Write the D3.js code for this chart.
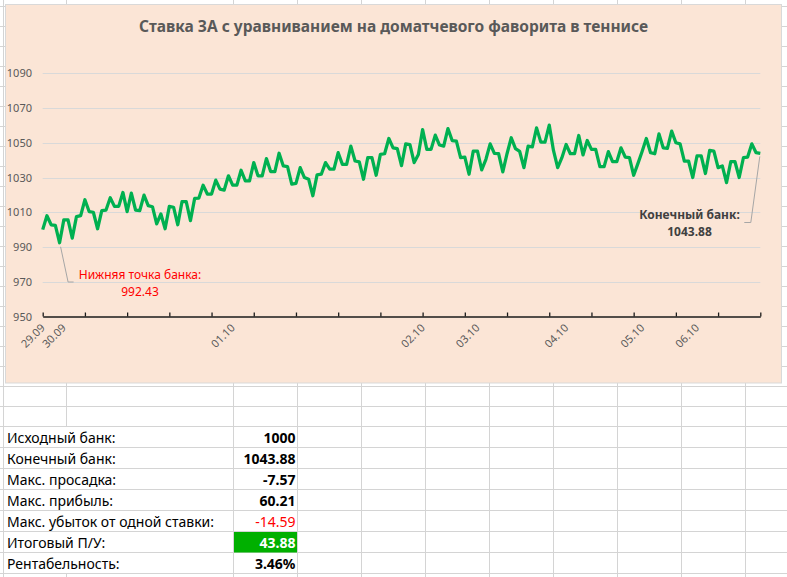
<!DOCTYPE html>
<html>
<head>
<meta charset="utf-8">
<script src="https://cdnjs.cloudflare.com/ajax/libs/d3/7.8.5/d3.min.js"></script>
<style>
body { margin: 0; background: #fff; }
svg { display: block; }
text { font-family: "Noto Sans", "Open Sans", sans-serif; }
</style>
</head>
<body>
<div id="chart"></div>
<script>

var title = "Ставка ЗА с уравниванием на доматчевого фаворита в теннисе";

// bank after each bet
var bank = [
    1000, 1008, 1002.8, 1002.4, 992.43, 1005.6, 1005.6, 995.1, 1007.5, 1008.1,
    1017.2, 1010.4, 1010, 1000.5, 1011, 1011.3, 1018.4, 1013.4, 1013.4, 1021.4,
    1010.4, 1021, 1011.3, 1011, 1019.9, 1013.8, 1013.2, 1003.3, 1009, 1000.5,
    1013.4, 1012.9, 1002.8, 1016.1, 1016.1, 1005.2, 1018, 1018.2, 1025.6, 1020.5,
    1020.5, 1028.5, 1023.3, 1022.8, 1031, 1025.6, 1025.6, 1034.2, 1028.1, 1028.1,
    1038.6, 1031, 1031, 1040.9, 1033.4, 1033.4, 1044, 1036.7, 1036.3, 1026.2,
    1026.6, 1035.7, 1030, 1029, 1019.5, 1031.5, 1031.9, 1038.6, 1034.8, 1034.8,
    1044.3, 1037.6, 1037.6, 1048.1, 1039.5, 1039, 1029, 1041.4, 1041.4, 1031.3,
    1043.3, 1043.7, 1052.5, 1047.1, 1046.6, 1036.8, 1049.4, 1049, 1038.6, 1043.3,
    1057.6, 1046.2, 1046.2, 1054.4, 1048.7, 1048.1, 1058.2, 1051.3, 1051, 1041.4,
    1041.8, 1031.9, 1045.2, 1045.2, 1034.4, 1040.5, 1049.4, 1043.9, 1043.7, 1033.2,
    1043.7, 1052.9, 1046.6, 1045, 1035.7, 1048.1, 1047.7, 1058.6, 1050.4, 1050.4,
    1060.21, 1045.6, 1035.7, 1041.4, 1049, 1043.7, 1043.7, 1054.2, 1043, 1051.3,
    1046.2, 1046.2, 1036.3, 1036.3, 1044.9, 1039.1, 1039.1, 1047.1, 1041.8, 1041.4,
    1031.3, 1038, 1045, 1052.5, 1044.3, 1043.7, 1055.1, 1047.1, 1046.8, 1056.7,
    1050, 1049.4, 1039.5, 1039.5, 1030, 1042.4, 1042.4, 1032.3, 1045.6, 1045.2,
    1035.7, 1036.7, 1027.1, 1039.1, 1039.1, 1030, 1041.4, 1041.8, 1049.4, 1044.3,
    1043.88
];

// first bet of each day
var dateLabels = ["29.09", "30.09", "01.10", "02.10", "03.10", "04.10", "05.10", "06.10"];
var dateIndex  = [0, 5, 45, 90, 103, 124, 142, 155];

var yTicks = [950, 970, 990, 1010, 1030, 1050, 1070, 1090];

var lowIndex = 4, lowLabel = ["Нижняя точка банка:", "992.43"];
var endIndex = 170, endLabel = ["Конечный банк:", "1043.88"];

var statNames = ["Исходный банк:", "Конечный банк:", "Макс. просадка:", "Макс. прибыль:",
                 "Макс. убыток от одной ставки:", "Итоговый П/У:", "Рентабельность:"];
var statValues = ["1000", "1043.88", "-7.57", "60.21", "-14.59", "43.88", "3.46%"];

/* Layout */

var W = 787, H = 577;
var gridColor = "#d4d4d4";
var colLines = [3.5, 66.5, 233.5, 297.5, 361.5, 425.5, 489.5, 553.5, 617.5, 681.5, 745.5];
var tableTop = [426.5, 447.5, 468.5, 489.5, 510.5, 531.5, 552.5], tableBottom = 573.5;

var svg = d3.select("#chart").append("svg")
    .attr("width", W)
    .attr("height", H);

svg.append("rect").attr("width", W).attr("height", H).attr("fill", "#fff");

// spreadsheet grid behind everything
var rowLines = d3.range(0, 21).map(function(k) { return 6.5 + 20*k; })
    .concat(tableTop).concat([tableBottom]);

var sheet = svg.append("g").attr("stroke", gridColor).attr("stroke-width", 1);
sheet.selectAll(".row").data(rowLines).enter().append("line")
    .attr("x1", 0).attr("x2", W)
    .attr("y1", function(d) { return d; }).attr("y2", function(d) { return d; });
sheet.selectAll(".col").data(colLines).enter().append("line")
    .attr("x1", function(d) { return d; }).attr("x2", function(d) { return d; })
    .attr("y1", 0).attr("y2", H);

// hide the gridlines that Excel doesn't draw where text overflows
svg.append("rect").attr("x", 4).attr("y", 427).attr("width", 229).attr("height", 146)
    .attr("fill", "#fff");
tableTop.concat([tableBottom]).forEach(function(y) {
    svg.append("line").attr("x1", 0).attr("x2", W).attr("y1", y).attr("y2", y)
        .attr("stroke", gridColor);
});

// green result cell
svg.append("rect").attr("x", 234).attr("y", tableTop[5] + 0.5)
    .attr("width", 63).attr("height", 20.5).attr("fill", "#00b000");

// table text
var table = svg.append("g").style("font-size", "14px");
table.selectAll(".name").data(statNames).enter().append("text")
    .attr("x", 7)
    .attr("y", function(d, i) { return tableTop[i] + 16.5; })
    .attr("fill", "#000")
    .text(function(d) { return d; });
table.selectAll(".value").data(statValues).enter().append("text")
    .attr("x", 295.5)
    .attr("y", function(d, i) { return tableTop[i] + 16.5; })
    .attr("text-anchor", "end")
    .attr("font-weight", function(d, i) { return i == 4 ? "normal" : "bold"; })
    .attr("fill", function(d, i) { return i == 4 ? "#ff0000" : (i == 5 ? "#fff" : "#000"); })
    .text(function(d) { return d; });

/* Chart */

svg.append("rect")
    .attr("x", 5.5).attr("y", 4.5).attr("width", 776).attr("height", 378.5)
    .attr("fill", "#fbe5d6").attr("stroke", "#d9d9d9");

svg.append("text")
    .attr("x", 393.5).attr("y", 32)
    .attr("text-anchor", "middle")
    .attr("font-weight", "bold")
    .attr("fill", "#595959")
    .style("font-size", "15.5px")
    .text(title);

var x = d3.scalePoint().domain(d3.range(bank.length)).range([42.7, 760.3]);
var y = d3.scaleLinear().domain([950, 1090]).range([316.5, 73.3]);

var plot = svg.append("g");

plot.selectAll(".grid").data(yTicks.slice(1)).enter().append("line")
    .attr("x1", x(0)).attr("x2", x(bank.length - 1))
    .attr("y1", function(d) { return Math.round(y(d)) + 0.5; })
    .attr("y2", function(d) { return Math.round(y(d)) + 0.5; })
    .attr("stroke", "#d9d9d9");

plot.selectAll(".ylab").data(yTicks).enter().append("text")
    .attr("x", 32).attr("y", function(d) { return y(d) + 4; })
    .attr("text-anchor", "end")
    .attr("fill", "#595959")
    .style("font-size", "11px")
    .text(function(d) { return d; });

// category axis, tick mark every 10 bets, inside
var xAxis = d3.axisBottom(x)
    .tickValues(d3.range(0, bank.length, 10))
    .tickSizeInner(-4).tickSizeOuter(0)
    .tickFormat("");
plot.append("g")
    .attr("transform", "translate(0," + y(950) + ")")
    .call(xAxis)
    .call(function(g) {
        g.select(".domain").attr("stroke", "#1a1a1a").attr("stroke-width", 1.3);
        g.selectAll(".tick line").attr("stroke", "#1a1a1a").attr("stroke-width", 1.3);
    });

plot.selectAll(".xlab").data(dateLabels).enter().append("text")
    .attr("transform", function(d, i) {
        return "translate(" + (x(dateIndex[i]) + 3) + "," + (y(950) + 12) + ") rotate(-45)";
    })
    .attr("text-anchor", "end")
    .attr("fill", "#595959")
    .style("font-size", "11px")
    .text(function(d) { return d; });

var line = d3.line()
    .x(function(d, i) { return x(i); })
    .y(function(d) { return y(d); });

plot.append("path")
    .datum(bank)
    .attr("d", line)
    .attr("fill", "none")
    .attr("stroke", "#00b050")
    .attr("stroke-width", 3.25)
    .attr("stroke-linejoin", "round");

// data labels with leader lines
var lx = x(lowIndex), ly = y(bank[lowIndex]);
plot.append("path")
    .attr("d", "M" + (lx + 1) + "," + (ly + 4) + "L" + (lx + 8.5) + "," + 282 + "L" + (lx + 14) + "," + 282)
    .attr("fill", "none").attr("stroke", "#a6a6a6");
var low = plot.append("g").attr("fill", "#ff0000").attr("text-anchor", "middle")
    .style("font-size", "12px");
low.append("text").attr("x", 140).attr("y", 278.5).text(lowLabel[0]);
low.append("text").attr("x", 140).attr("y", 295.5).text(lowLabel[1]);

var ex = x(endIndex), ey = y(bank[endIndex]);
plot.append("path")
    .attr("d", "M" + (ex - 0.5) + "," + (ey + 3) + "L" + (ex - 9.5) + "," + 222.5 + "L" + (ex - 16) + "," + 222.5)
    .attr("fill", "none").attr("stroke", "#a6a6a6");
var end = plot.append("g").attr("fill", "#404040").attr("text-anchor", "middle")
    .attr("font-weight", "bold").style("font-size", "12px");
end.append("text").attr("x", 689.5).attr("y", 218.5).text(endLabel[0]);
end.append("text").attr("x", 689.5).attr("y", 236).text(endLabel[1]);

</script>
</body>
</html>
